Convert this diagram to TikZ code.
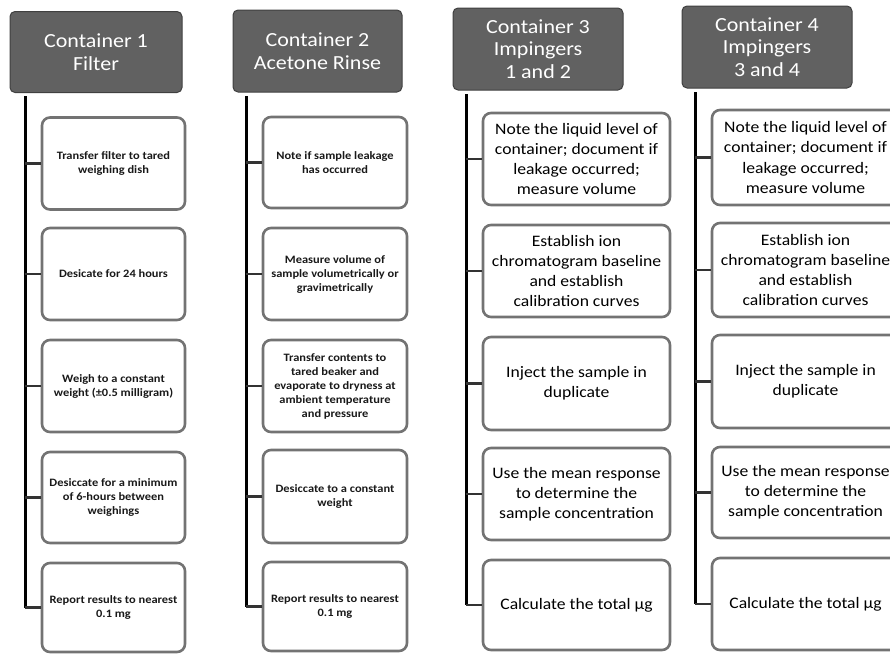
\documentclass[tikz,border=0pt]{standalone}
\usepackage{fontspec}
\setmainfont{Carlito}
\newfontfamily\widefont[FakeStretch=1.1]{Carlito}
\begin{document}
\begin{tikzpicture}[x=1pt,y=-1pt,
  head/.style={draw=black!75,line width=1pt,fill=black!62,rounded corners=5pt,text=white,align=center,
    font=\widefont\fontsize{20}{22.5}\selectfont,inner sep=0pt},
  smallbox/.style={draw=black!55,line width=2.6pt,fill=white,rounded corners=8pt,align=center,
    font=\widefont\bfseries\fontsize{11.3}{14}\selectfont,inner sep=0pt,text=black!90},
  bigbox/.style={draw=black!55,line width=2.6pt,fill=white,rounded corners=8pt,align=center,
    font=\widefont\fontsize{16}{20}\selectfont,inner sep=0pt},
  trunk/.style={draw=black,line width=3pt},
  branch/.style={draw=black!80,line width=2.6pt}]
\useasboundingbox (0,0) rectangle (890,653);
\clip (0,0) rectangle (890,653);
% headers
\node[head,minimum width=172pt,minimum height=81pt] (h1) at (96,52) {Container 1\\Filter};
\node[head,minimum width=169pt,minimum height=82pt] (h2) at (317.5,51) {Container 2\\Acetone Rinse};
\node[head,minimum width=170pt,minimum height=82pt] (h3) at (538,49) {Container 3\\Impingers\\1 and 2};
\node[head,minimum width=170pt,minimum height=82pt] (h4) at (767,47) {Container 4\\Impingers\\3 and 4};
% trunk tops
\coordinate (t1) at (25,96);
\coordinate (t2) at (246,96);
\coordinate (t3) at (466,94);
\coordinate (t4) at (695,92);
% column 1
\node[smallbox,minimum width=143pt,minimum height=92pt] (a1) at (113.5,163.5) {Transfer filter to tared\\weighing dish};
\node[smallbox,minimum width=143pt,minimum height=92pt] (a2) at (113.5,274) {Desicate for 24 hours};
\node[smallbox,minimum width=143pt,minimum height=92pt] (a3) at (113.5,386) {Weigh to a constant\\weight (±0.5 milligram)};
\node[smallbox,minimum width=143pt,minimum height=91pt] (a4) at (113.5,497.5) {Desiccate for a minimum\\of 6-hours between\\weighings};
\node[smallbox,minimum width=143pt,minimum height=89pt] (a5) at (113.5,607.5) {Report results to nearest\\0.1 mg};
% column 2
\node[smallbox,minimum width=144pt,minimum height=91pt] (b1) at (335,162.5) {Note if sample leakage\\has occurred};
\node[smallbox,minimum width=144pt,minimum height=92pt] (b2) at (335,274) {Measure volume of\\sample volumetrically or\\gravimetrically};
\node[smallbox,minimum width=144pt,minimum height=92pt] (b3) at (335,386) {Transfer contents to\\tared beaker and\\evaporate to dryness at\\ambient temperature\\and pressure};
\node[smallbox,minimum width=144pt,minimum height=93pt] (b4) at (335,496.5) {Desiccate to a constant\\weight};
\node[smallbox,minimum width=144pt,minimum height=89pt] (b5) at (335,606.5) {Report results to nearest\\0.1 mg};
% column 3
\node[bigbox,minimum width=187pt,minimum height=92pt] (c1) at (576.5,159) {Note the liquid level of\\container; document if\\leakage occurred;\\measure volume};
\node[bigbox,minimum width=187pt,minimum height=92pt] (c2) at (576.5,271) {Establish ion\\chromatogram baseline\\and establish\\calibration curves};
\node[bigbox,minimum width=187pt,minimum height=93pt] (c3) at (576.5,383.5) {Inject the sample in\\duplicate};
\node[bigbox,minimum width=187pt,minimum height=92pt] (c4) at (576.5,494) {Use the mean response\\to determine the\\sample concentration};
\node[bigbox,minimum width=187pt,minimum height=90pt] (c5) at (576.5,605) {Calculate the total µg};
% column 4
\node[bigbox,minimum width=187pt,minimum height=95pt] (d1) at (805.5,157.5) {Note the liquid level of\\container; document if\\leakage occurred;\\measure volume};
\node[bigbox,minimum width=187pt,minimum height=94pt] (d2) at (805.5,270) {Establish ion\\chromatogram baseline\\and establish\\calibration curves};
\node[bigbox,minimum width=187pt,minimum height=93pt] (d3) at (805.5,381.5) {Inject the sample in\\duplicate};
\node[bigbox,minimum width=187pt,minimum height=91pt] (d4) at (805.5,492.5) {Use the mean response\\to determine the\\sample concentration};
\node[bigbox,minimum width=187pt,minimum height=92pt] (d5) at (805.5,604) {Calculate the total µg};
% trunks
\draw[trunk] (t1) -- (t1 |- a5.west);
\draw[trunk] (t2) -- (t2 |- b5.west);
\draw[trunk] (t3) -- (t3 |- c5.west);
\draw[trunk] (t4) -- (t4 |- d5.west);
% branches
\foreach \n in {1,...,5}{
  \draw[branch] (t1 |- a\n.west) -- (a\n.west);
  \draw[branch] (t2 |- b\n.west) -- (b\n.west);
  \draw[branch] (t3 |- c\n.west) -- (c\n.west);
  \draw[branch] (t4 |- d\n.west) -- (d\n.west);
}
\end{tikzpicture}
\end{document}
